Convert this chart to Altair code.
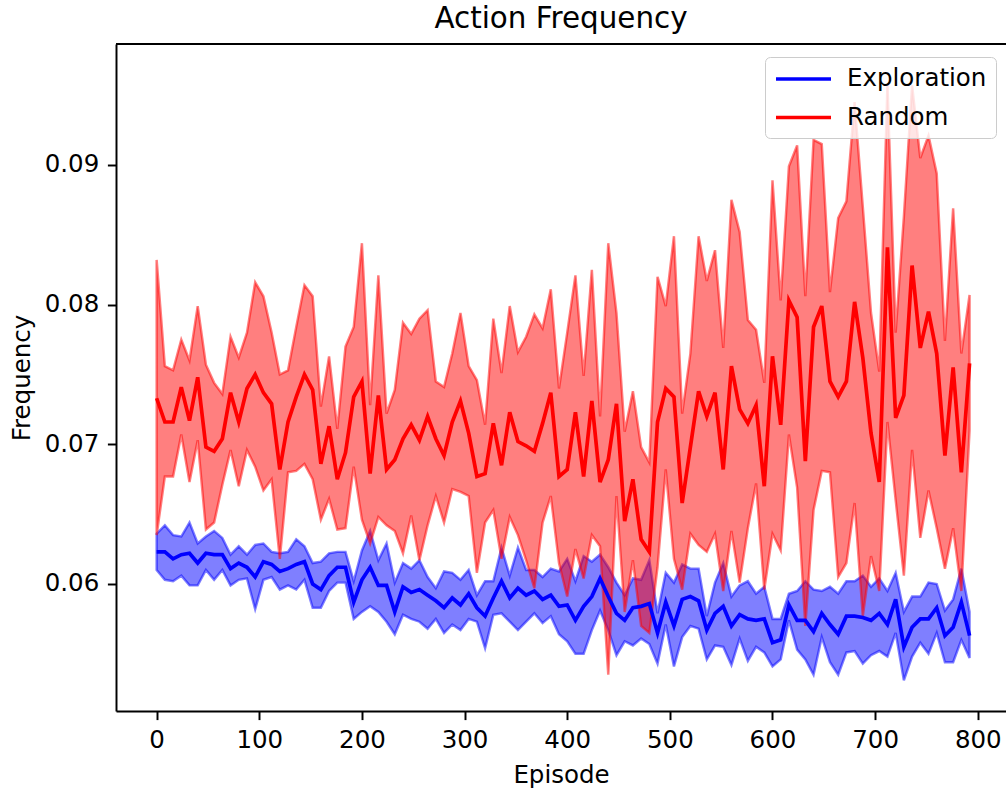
import altair as alt
import pandas as pd

# x grid: one sample every 8 episodes
episodes = list(range(0, 793, 8))

expl_mean = [0.0623, 0.0623, 0.0618, 0.0621, 0.0622, 0.0615, 0.0622, 0.0621, 0.0621, 0.0611,
             0.0615, 0.0612, 0.0605, 0.0616, 0.0614, 0.0609, 0.0611, 0.0614, 0.0616, 0.0600,
             0.0596, 0.0606, 0.0612, 0.0612, 0.0587, 0.0603, 0.0612, 0.0599, 0.0599, 0.0580,
             0.0598, 0.0594, 0.0596, 0.0592, 0.0588, 0.0583, 0.0590, 0.0585, 0.0593, 0.0583,
             0.0577, 0.0590, 0.0602, 0.0590, 0.0597, 0.0592, 0.0595, 0.0589, 0.0592, 0.0584,
             0.0585, 0.0574, 0.0584, 0.0591, 0.0604, 0.0591, 0.0579, 0.0574, 0.0583, 0.0584,
             0.0586, 0.0565, 0.0587, 0.0570, 0.0589, 0.0591, 0.0588, 0.0567, 0.0579, 0.0584,
             0.0570, 0.0578, 0.0575, 0.0574, 0.0575, 0.0558, 0.0560, 0.0585, 0.0574, 0.0574,
             0.0566, 0.0579, 0.0571, 0.0564, 0.0577, 0.0577, 0.0576, 0.0574, 0.0579, 0.0571,
             0.0589, 0.0555, 0.0569, 0.0575, 0.0575, 0.0583, 0.0563, 0.0569, 0.0587, 0.0563]

expl_upper = [0.0636, 0.0642, 0.0635, 0.0634, 0.0644, 0.0629, 0.0634, 0.0638, 0.0633, 0.0621,
              0.0627, 0.0621, 0.0628, 0.0629, 0.0623, 0.0622, 0.0623, 0.0632, 0.0627, 0.0615,
              0.0616, 0.0622, 0.0623, 0.0623, 0.0602, 0.0624, 0.0638, 0.0617, 0.0629, 0.0601,
              0.0615, 0.0611, 0.0617, 0.0605, 0.0597, 0.0609, 0.0608, 0.0603, 0.0610, 0.0592,
              0.0602, 0.0602, 0.0626, 0.0606, 0.0626, 0.0610, 0.0610, 0.0605, 0.0611, 0.0609,
              0.0618, 0.0602, 0.0620, 0.0616, 0.0621, 0.0612, 0.0601, 0.0592, 0.0604, 0.0603,
              0.0617, 0.0579, 0.0608, 0.0601, 0.0614, 0.0611, 0.0611, 0.0577, 0.0601, 0.0615,
              0.0591, 0.0599, 0.0602, 0.0593, 0.0598, 0.0575, 0.0575, 0.0593, 0.0595, 0.0602,
              0.0596, 0.0595, 0.0598, 0.0593, 0.0602, 0.0602, 0.0606, 0.0598, 0.0604, 0.0595,
              0.0608, 0.0580, 0.0591, 0.0591, 0.0601, 0.0600, 0.0581, 0.0589, 0.0611, 0.0580]

expl_lower = [0.0610, 0.0603, 0.0602, 0.0606, 0.0599, 0.0599, 0.0610, 0.0603, 0.0610, 0.0599,
              0.0603, 0.0604, 0.0582, 0.0603, 0.0605, 0.0596, 0.0599, 0.0596, 0.0603, 0.0583,
              0.0583, 0.0595, 0.0601, 0.0601, 0.0575, 0.0580, 0.0584, 0.0580, 0.0573, 0.0564,
              0.0578, 0.0575, 0.0573, 0.0568, 0.0575, 0.0565, 0.0571, 0.0567, 0.0575, 0.0573,
              0.0554, 0.0578, 0.0579, 0.0573, 0.0567, 0.0573, 0.0579, 0.0572, 0.0577, 0.0564,
              0.0559, 0.0550, 0.0550, 0.0567, 0.0581, 0.0567, 0.0549, 0.0559, 0.0556, 0.0561,
              0.0557, 0.0543, 0.0571, 0.0541, 0.0562, 0.0570, 0.0568, 0.0546, 0.0556, 0.0555,
              0.0542, 0.0561, 0.0545, 0.0555, 0.0551, 0.0541, 0.0546, 0.0574, 0.0553, 0.0546,
              0.0535, 0.0562, 0.0544, 0.0535, 0.0551, 0.0552, 0.0543, 0.0549, 0.0552, 0.0548,
              0.0565, 0.0531, 0.0548, 0.0558, 0.0550, 0.0565, 0.0544, 0.0544, 0.0560, 0.0547]

rand_mean = [0.0733, 0.0716, 0.0716, 0.0741, 0.0717, 0.0748, 0.0698, 0.0695, 0.0704, 0.0737,
             0.0716, 0.0740, 0.0750, 0.0737, 0.0729, 0.0682, 0.0716, 0.0734, 0.0750, 0.0739,
             0.0686, 0.0713, 0.0675, 0.0694, 0.0734, 0.0745, 0.0679, 0.0735, 0.0682, 0.0689,
             0.0704, 0.0714, 0.0703, 0.0720, 0.0704, 0.0692, 0.0716, 0.0731, 0.0708, 0.0677,
             0.0679, 0.0715, 0.0685, 0.0723, 0.0702, 0.0699, 0.0695, 0.0715, 0.0737, 0.0677,
             0.0682, 0.0723, 0.0677, 0.0731, 0.0673, 0.0689, 0.0729, 0.0645, 0.0675, 0.0632,
             0.0623, 0.0716, 0.0740, 0.0734, 0.0658, 0.0698, 0.0738, 0.0720, 0.0737, 0.0682,
             0.0756, 0.0725, 0.0715, 0.0728, 0.0670, 0.0763, 0.0714, 0.0803, 0.0791, 0.0688,
             0.0784, 0.0799, 0.0745, 0.0734, 0.0745, 0.0802, 0.0762, 0.0708, 0.0673, 0.0841,
             0.0719, 0.0735, 0.0828, 0.0769, 0.0795, 0.0765, 0.0692, 0.0755, 0.0680, 0.0758]

rand_upper = [0.0832, 0.0756, 0.0753, 0.0775, 0.0760, 0.0799, 0.0757, 0.0744, 0.0736, 0.0777,
              0.0762, 0.0780, 0.0816, 0.0806, 0.0780, 0.0750, 0.0753, 0.0784, 0.0814, 0.0806,
              0.0727, 0.0763, 0.0711, 0.0770, 0.0784, 0.0844, 0.0728, 0.0821, 0.0722, 0.0739,
              0.0787, 0.0779, 0.0790, 0.0796, 0.0745, 0.0741, 0.0765, 0.0794, 0.0756, 0.0746,
              0.0714, 0.0790, 0.0751, 0.0799, 0.0766, 0.0777, 0.0793, 0.0783, 0.0811, 0.0740,
              0.0780, 0.0821, 0.0749, 0.0825, 0.0720, 0.0844, 0.0794, 0.0709, 0.0738, 0.0698,
              0.0687, 0.0820, 0.0799, 0.0849, 0.0722, 0.0765, 0.0849, 0.0817, 0.0839, 0.0769,
              0.0875, 0.0852, 0.0789, 0.0782, 0.0744, 0.0889, 0.0803, 0.0899, 0.0914, 0.0806,
              0.0918, 0.0915, 0.0809, 0.0862, 0.0874, 0.0945, 0.0870, 0.0794, 0.0752, 0.0958,
              0.0780, 0.0863, 0.0957, 0.0905, 0.0921, 0.0894, 0.0774, 0.0869, 0.0765, 0.0807]

rand_lower = [0.0635, 0.0677, 0.0677, 0.0707, 0.0673, 0.0703, 0.0639, 0.0644, 0.0671, 0.0696,
              0.0670, 0.0696, 0.0684, 0.0667, 0.0675, 0.0618, 0.0680, 0.0681, 0.0686, 0.0675,
              0.0646, 0.0661, 0.0639, 0.0640, 0.0684, 0.0646, 0.0629, 0.0648, 0.0642, 0.0638,
              0.0622, 0.0649, 0.0617, 0.0642, 0.0663, 0.0644, 0.0668, 0.0666, 0.0663, 0.0608,
              0.0644, 0.0653, 0.0618, 0.0648, 0.0635, 0.0617, 0.0597, 0.0644, 0.0663, 0.0615,
              0.0591, 0.0625, 0.0604, 0.0635, 0.0627, 0.0535, 0.0663, 0.0580, 0.0617, 0.0570,
              0.0565, 0.0612, 0.0682, 0.0618, 0.0596, 0.0636, 0.0628, 0.0623, 0.0636, 0.0595,
              0.0638, 0.0601, 0.0640, 0.0672, 0.0596, 0.0636, 0.0624, 0.0707, 0.0669, 0.0570,
              0.0653, 0.0681, 0.0680, 0.0605, 0.0615, 0.0658, 0.0577, 0.0620, 0.0595, 0.0716,
              0.0660, 0.0606, 0.0696, 0.0633, 0.0667, 0.0640, 0.0611, 0.0640, 0.0595, 0.0710]

series_names = ["Exploration", "Random"]
series_colors = ["#0000ff", "#ff0000"]
x_ticks = [0, 100, 200, 300, 400, 500, 600, 700, 800]
y_ticks = [0.06, 0.07, 0.08, 0.09]

rows = []
for name, m, lo, hi in [("Exploration", expl_mean, expl_lower, expl_upper),
                        ("Random", rand_mean, rand_lower, rand_upper)]:
    for e, a, b, c in zip(episodes, m, lo, hi):
        rows.append({"episode": e, "series": name, "mean": a, "lower": b, "upper": c})
df = pd.DataFrame(rows)

W, H = 890, 667
FONT = "DejaVu Sans"
FS = 24.5

xscale = alt.Scale(domain=[-39.6, 827.5], nice=False, zero=False)
yscale = alt.Scale(domain=[0.050907, 0.098663], nice=False, zero=False)
xaxis = alt.Axis(values=x_ticks, title="Episode", grid=False, titlePadding=12)
yaxis = alt.Axis(values=y_ticks, title="Frequency", grid=False, format=".2f", titlePadding=10)


def band(name, color):
    return alt.Chart(df).transform_filter(alt.datum.series == name).mark_area(
        fill=color, fillOpacity=0.5, stroke=color, strokeOpacity=0.5, strokeWidth=2.45
    ).encode(
        x=alt.X("episode:Q", scale=xscale, axis=xaxis),
        y=alt.Y("lower:Q", scale=yscale, axis=yaxis),
        y2="upper:Q",
    )


lines = alt.Chart(df).mark_line(strokeWidth=3.7).encode(
    x=alt.X("episode:Q", scale=xscale, axis=xaxis),
    y=alt.Y("mean:Q", scale=yscale, axis=yaxis),
    color=alt.Color(
        "series:N",
        scale=alt.Scale(domain=series_names, range=series_colors),
        legend=alt.Legend(
            title=None, orient="none", legendX=649, legendY=13, direction="vertical",
            symbolType="M-1,0H4", symbolSize=484, symbolStrokeWidth=3.7,
            labelFont=FONT, labelFontSize=FS, labelColor="black", labelOffset=47,
            padding=9, rowPadding=13.5, fillColor="rgba(255,255,255,0.8)",
            strokeColor="#cccccc", cornerRadius=5,
        ),
    ),
)

top_spine = alt.Chart(pd.DataFrame({"k": [0]})).mark_rule(color="black", strokeWidth=1.96).encode(
    x=alt.value(0), x2=alt.value(W), y=alt.value(0)
)

chart = alt.layer(band("Exploration", "#0000ff"), band("Random", "#ff0000"), lines, top_spine).properties(
    width=W, height=H,
    title=alt.TitleParams("Action Frequency", font=FONT, fontSize=29.4, fontWeight="normal",
                          color="black", anchor="middle", offset=9, baseline="bottom", dy=29),
    autosize=alt.AutoSizeParams(type="none"),
    padding={"left": 116, "top": 44, "right": 0, "bottom": 80},
    background="white",
).configure_view(stroke=None).configure_axis(
    domainColor="black", domainWidth=1.96, tickColor="black", tickWidth=1.96, tickSize=8.6,
    labelFont=FONT, labelFontSize=FS, labelColor="black", labelPadding=8.6,
    titleFont=FONT, titleFontSize=FS, titleFontWeight="normal", titleColor="black",
)

chart.save("out.html", embed_options={"renderer": "svg", "actions": False})
